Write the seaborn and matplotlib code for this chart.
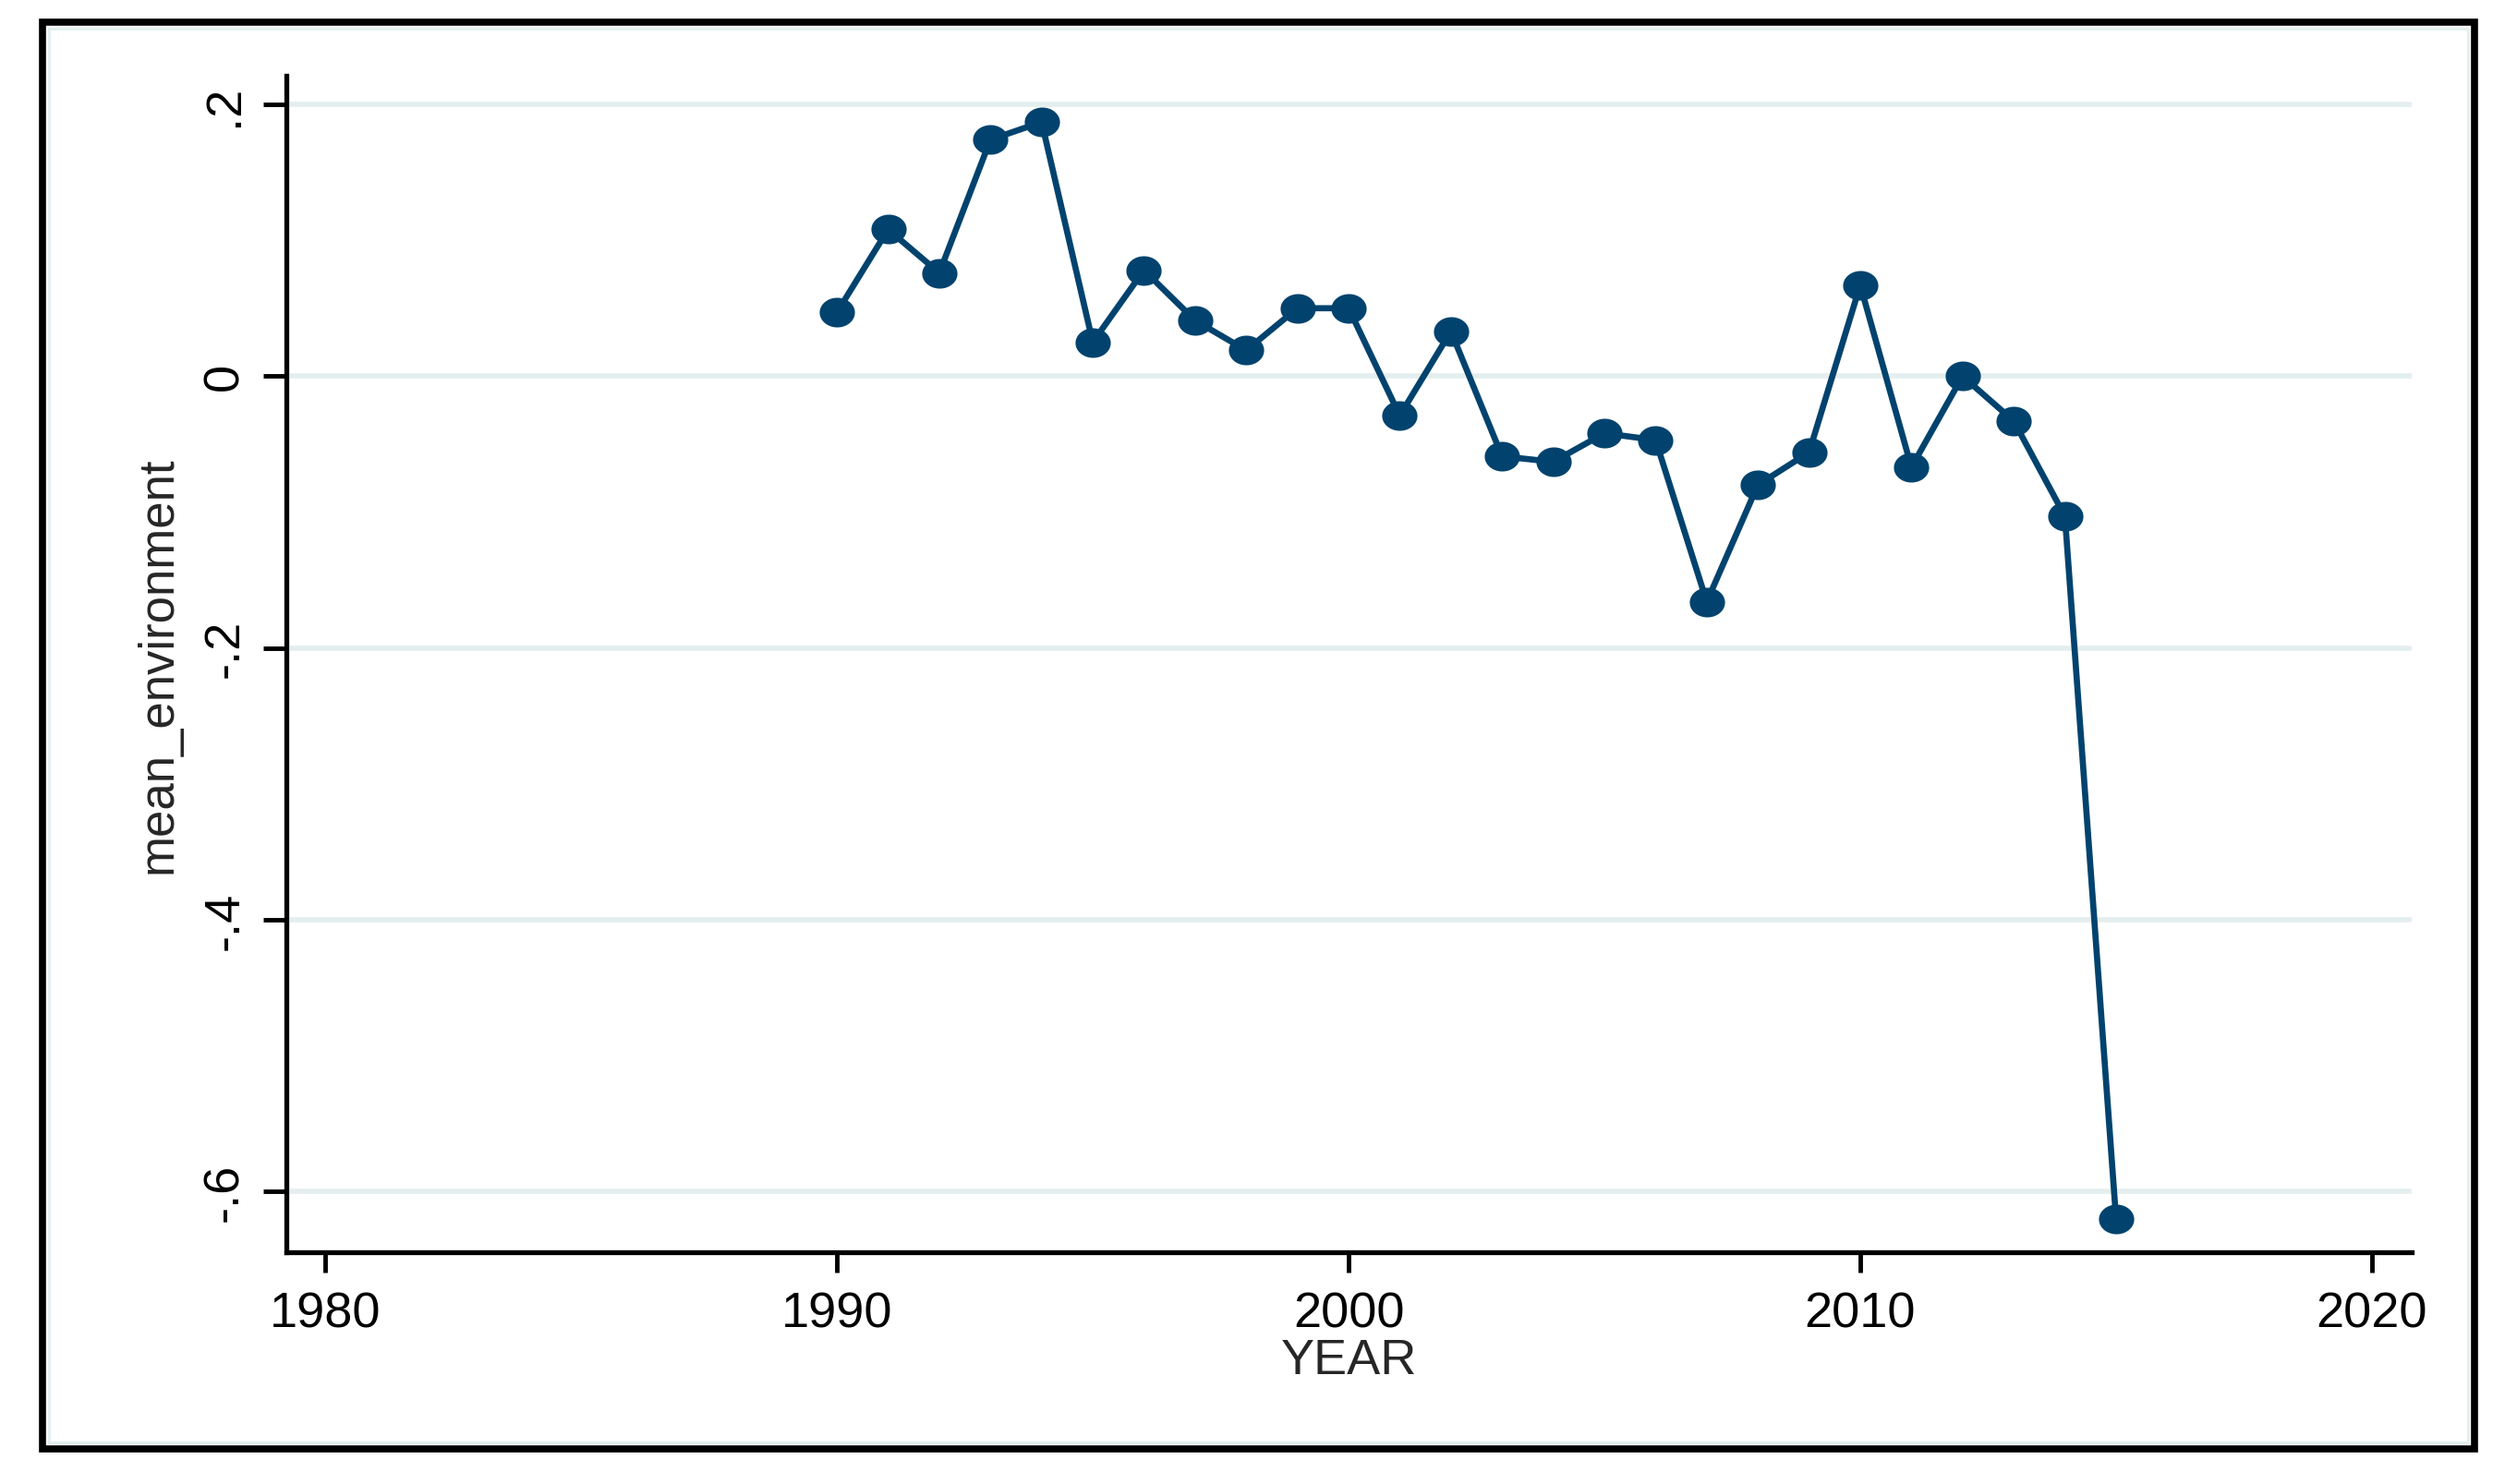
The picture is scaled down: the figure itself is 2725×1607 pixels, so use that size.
import seaborn as sns
import pandas as pd
import numpy as np
import matplotlib.pyplot as plt
from matplotlib.patches import Rectangle
from matplotlib.path import Path

# data
years = list(range(1990, 2016))
mean_env = [0.047, 0.108, 0.076, 0.174, 0.187, 0.025, 0.078, 0.041, 0.019, 0.050,
            0.050, -0.029, 0.033, -0.059, -0.063, -0.042, -0.047, -0.166, -0.080,
            -0.056, 0.067, -0.067, 0.000, -0.033, -0.103, -0.620]
xticks = [1980, 1990, 2000, 2010, 2020]
yticks = [0.2, 0.0, -0.2, -0.4, -0.6]
ytick_labels = ['.2', '0', '-.2', '-.4', '-.6']

df = pd.DataFrame({'YEAR': years, 'mean_environment': mean_env})

sns.set_style('white')
plt.rcParams['font.family'] = ['Liberation Sans', 'DejaVu Sans']

navy = '#01436e'
grid_col = '#e4eeee'

fig = plt.figure(figsize=(27.25, 16.08), dpi=100)
ax = fig.add_axes([0.1138, 0.1561, 0.8444, 0.7923])

# stata style outer frame
fig.patches.append(Rectangle((46 / 2725, 1 - 1570 / 1608), (2679 - 46) / 2725, (1570 - 25) / 1608,
                             transform=fig.transFigure, fill=False, ec='black', lw=5.5,
                             joinstyle='miter'))
fig.patches.append(Rectangle((53 / 2725, 1 - 1563 / 1608), (2672 - 53) / 2725, (1563 - 32) / 1608,
                             transform=fig.transFigure, fill=False, ec=grid_col, lw=2.2,
                             joinstyle='miter'))

# slightly wide oval marker like the original
t = np.linspace(0, 2 * np.pi, 60)
oval = Path(np.column_stack([np.cos(t), 0.84 * np.sin(t)]), closed=True)

sns.lineplot(data=df, x='YEAR', y='mean_environment', ax=ax, color=navy, linewidth=4.8,
             marker=oval, markersize=27.5, markeredgewidth=0, markerfacecolor=navy, zorder=3)

ax.set_xlim(1979.24, 2020.78)
ax.set_ylim(-0.6446, 0.2211)
ax.set_xticks(xticks)
ax.set_xticklabels([str(v) for v in xticks])
ax.set_yticks(yticks)
ax.set_yticklabels(ytick_labels, rotation=90, va='center')

ax.yaxis.grid(True, color=grid_col, linewidth=4)
ax.xaxis.grid(False)
ax.set_axisbelow(True)

for s in ['top', 'right']:
    ax.spines[s].set_visible(False)
for s in ['left', 'bottom']:
    ax.spines[s].set_color('black')
    ax.spines[s].set_linewidth(3.8)

ax.tick_params(axis='x', bottom=True, direction='out', length=16, width=3.5,
               labelsize=39, pad=14, colors='black')
ax.tick_params(axis='y', left=True, direction='out', length=18, width=3.5,
               labelsize=39, pad=12, colors='black')

ax.set_xlabel('YEAR', fontsize=39, labelpad=0)
ax.set_ylabel('mean_environment', fontsize=38, labelpad=16)

fig.savefig('out.png', dpi=100)
